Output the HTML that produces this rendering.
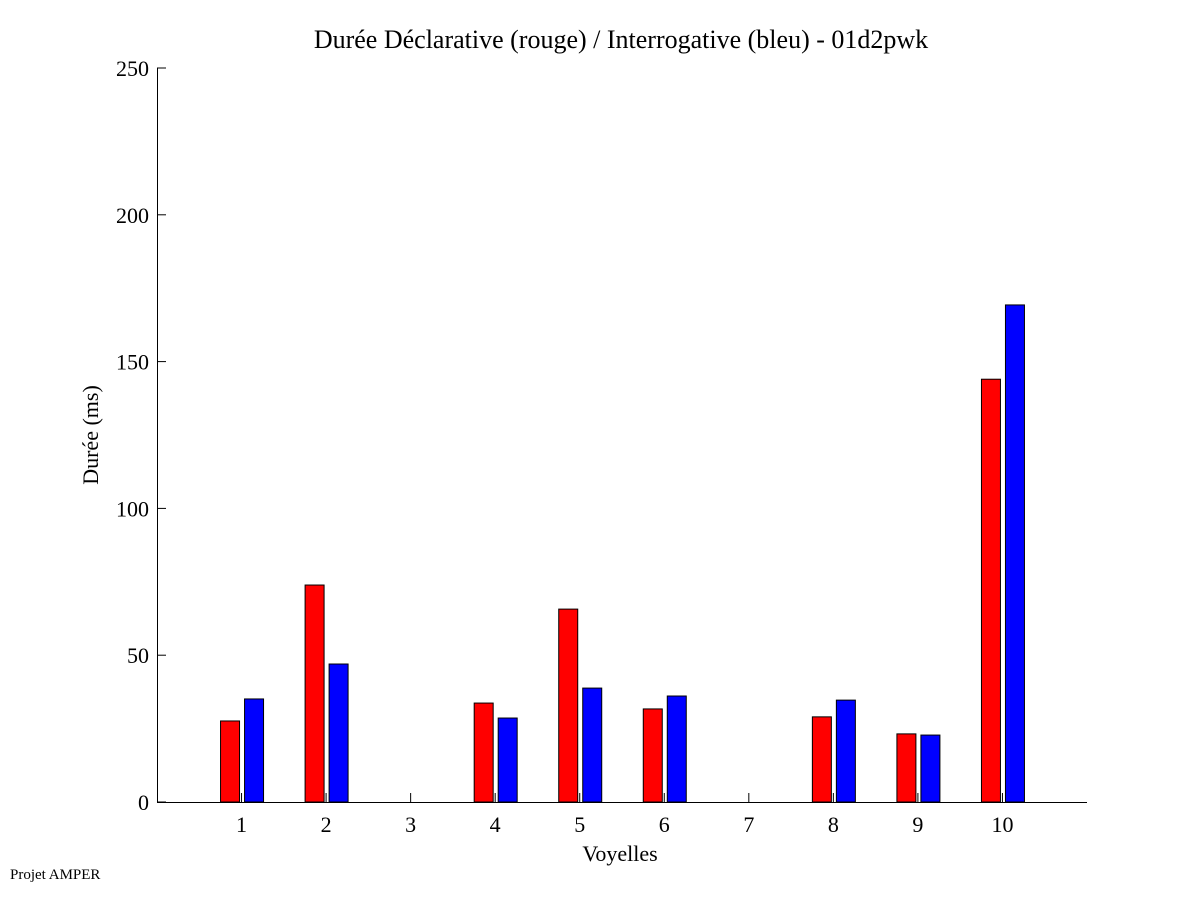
<!DOCTYPE html>
<html><head><meta charset="utf-8"><style>
body{margin:0;background:#fff;}
svg{display:block;font-family:"Liberation Serif",serif;}
</style></head><body>
<svg id="chart" width="1201" height="901">
<rect width="1201" height="901" fill="#fff"/>
<text x="621" y="48" font-size="26" text-anchor="middle">Durée Déclarative (rouge) / Interrogative (bleu) - 01d2pwk</text>
<text x="0" y="0" font-size="22" text-anchor="middle" transform="translate(98,435) rotate(-90)">Durée (ms)</text>
<text x="620" y="861" font-size="22" text-anchor="middle">Voyelles</text>
<text x="10" y="879" font-size="15">Projet AMPER</text>
<g id="bars"></g>
<g id="axes"></g>
</svg>
<script>
const categories=[1,2,3,4,5,6,7,8,9,10];
const redValues=[27.6,73.9,0,33.7,65.7,31.7,0,29,23.2,144];
const blueValues=[35.1,47,0,28.6,38.8,36.1,0,34.7,22.8,169.3];
const yTicks=[0,50,100,150,200,250];
const NS="http://www.w3.org/2000/svg";
const x0=157,x1=1087,y0=802,y1=68;
const xs=v=>x0+(v)*(x1-x0)/11;
const ys=v=>y0-v*(y0-y1)/250;
const bars=document.getElementById('bars'),axes=document.getElementById('axes');
function mk(tag,attrs,parent){const e=document.createElementNS(NS,tag);for(const k in attrs)e.setAttribute(k,attrs[k]);parent.appendChild(e);return e;}
categories.forEach((c,i)=>{
  const cx=xs(c);
  if(redValues[i]>0){const r=mk('rect',{x:cx-21,y:ys(redValues[i]),width:19,height:y0-ys(redValues[i]),fill:'#ff0000',stroke:'#000','stroke-width':1},bars);
    
    }
  if(blueValues[i]>0){const b=mk('rect',{x:cx+3,y:ys(blueValues[i]),width:19,height:y0-ys(blueValues[i]),fill:'#0000ff',stroke:'#000','stroke-width':1},bars);
    
    }
  const t=mk('line',{x1:cx,x2:cx,y1:y0,y2:y0-9,stroke:'#000'},axes);
  
  
  const l=mk('text',{x:cx,y:y0+30,'font-size':22,'text-anchor':'middle'},axes);
  l.textContent=c;
  
  
});
yTicks.forEach(v=>{
  const y=ys(v);
  const t=mk('line',{x1:x0,x2:x0+9,y1:y,y2:y,stroke:'#000'},axes);
  
  
  const l=mk('text',{x:x0-8,y:y+8,'font-size':22,'text-anchor':'end'},axes);
  l.textContent=v;
  
  
});
const xa=mk('line',{x1:x0,x2:x1,y1:y0+0.5,y2:y0+0.5,stroke:'#000'},axes);


const ya=mk('line',{x1:x0+0.5,x2:x0+0.5,y1:y1,y2:y0,stroke:'#000'},axes);


</script>
</body></html>
